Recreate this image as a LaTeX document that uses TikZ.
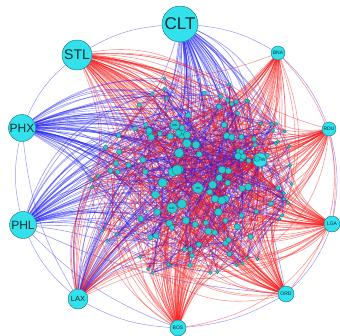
\documentclass[tikz,border=0pt]{standalone}
\usepackage{fontspec}
\setmainfont{Liberation Sans}
\usetikzlibrary{backgrounds}
\definecolor{nodecyan}{RGB}{50,225,235}
\definecolor{innercyan}{RGB}{40,205,210}
\definecolor{rimteal}{RGB}{20,110,120}
\definecolor{labelink}{RGB}{15,45,50}
\definecolor{linkred}{RGB}{245,25,25}
\definecolor{linkblue}{RGB}{30,30,240}
\tikzset{
    hub/.style={
        circle, fill=nodecyan, draw=rimteal, line width=0.4pt, inner sep=0pt, text=labelink
    },
    airport/.style={
        circle, fill=innercyan, draw=rimteal, line width=0.3pt, inner sep=0pt, text=labelink,
        font=\fontsize{3}{3}\selectfont
    },
    redlink/.style={
        draw=linkred, draw opacity=0.42, line width=0.65pt
    },
    bluelink/.style={
        draw=linkblue, draw opacity=0.42, line width=0.65pt
    },
    rimlink/.style={
        draw=linkblue!75!white, draw opacity=0.6, line width=0.5pt
    }
}

\begin{document}
\begin{tikzpicture}[x=1pt, y=-1pt]
    \useasboundingbox (0,0) rectangle (340,335);
    \pgfmathsetseed{17}

    % hubs round the rim
    \node[hub, minimum size=36pt, font=\fontsize{17}{17}\selectfont] (clt) at (180,24) {CLT};
    \node[hub, minimum size=30pt, font=\fontsize{14}{14}\selectfont] (stl) at (77,55) {STL};
    \node[hub, minimum size=27pt, font=\fontsize{12}{12}\selectfont] (phx) at (22,128) {PHX};
    \node[hub, minimum size=27pt, font=\fontsize{12}{12}\selectfont] (phl) at (23,225) {PHL};
    \node[hub, minimum size=20pt, font=\fontsize{7.5}{7.5}\selectfont] (lax) at (78,299) {LAX};
    \node[hub, minimum size=16pt, font=\fontsize{5}{5}\selectfont] (bos) at (178,328) {BOS};
    \node[hub, minimum size=16pt, font=\fontsize{5}{5}\selectfont] (ord) at (286,294) {ORD};
    \node[hub, minimum size=16pt, font=\fontsize{5}{5}\selectfont] (lga) at (332,224) {LGA};
    \node[hub, minimum size=14pt, font=\fontsize{5}{5}\selectfont] (rdu) at (329,129) {RDU};
    \node[hub, minimum size=14pt, font=\fontsize{5}{5}\selectfont] (bna) at (278,53) {BNA};
    \node[hub, minimum size=14pt, font=\fontsize{5}{5}\selectfont] (dfw) at (260,160) {DFW};

    % labelled airports in the core
    \node[airport, minimum size=10pt] (sdl) at (175,125) {SDL};
    \node[airport, minimum size=10pt] (dca) at (182,134) {DCA};
    \node[airport, minimum size=11pt] (jfk) at (198,188) {JFK};
    \node[airport, minimum size=11pt] (sjc) at (172,208) {SJC};

    % the other airports
    \foreach \i in {1,...,130}{
        \pgfmathsetmacro\ang{360*rnd}
        \pgfmathsetmacro\rr{sqrt(rnd)}
        \pgfmathsetmacro\sz{3.2+8.5*(1-\rr)*(0.4+0.6*rnd)}
        \node[airport, minimum size=\sz pt] (v\i) at ({192+106*\rr*cos(\ang)},{178+104*\rr*sin(\ang)}) {};
    }

    \begin{scope}[on background layer]
        % rim
        \foreach \ha/\hb in {clt/bna, bna/rdu, rdu/lga, lga/ord, ord/bos, bos/lax, lax/phl, phl/phx, phx/stl, stl/clt}
            \draw[rimlink] (\ha) to[bend left=12] (\hb);
        \draw[rimlink] (phx) to[bend right=12] (lax);
        \draw[rimlink] (phl) to[bend right=12] (bos);
        \draw[redlink] (bna) to[bend left=25] (lga);
        \draw[redlink] (rdu) to[bend left=25] (ord);
        \draw[redlink] (lga) to[bend left=25] (bos);
        \draw[redlink] (stl) to[bend right=10] (lga);
        \draw[bluelink] (phx) to[bend right=15] (rdu);
        \draw[bluelink] (phl) to[bend right=10] (ord);
        \draw[bluelink] (clt) to[bend left=10] (ord);

        % fans from each hub
        \foreach \hname/\hstyle/\hp in {clt/bluelink/0.55, stl/redlink/0.55, phx/bluelink/0.6, phl/bluelink/0.5,
                lax/bluelink/0.3, lax/redlink/0.2, bos/redlink/0.45, ord/redlink/0.4, lga/redlink/0.45,
                rdu/redlink/0.4, bna/redlink/0.4, dfw/redlink/0.25, dfw/bluelink/0.1}{
            \foreach \j in {1,...,130}{
                \pgfmathtruncatemacro\pick{rnd<\hp}
                \ifnum\pick=1
                    \pgfmathsetmacro\bnd{8+22*rnd}
                    \draw[\hstyle] (\hname) to[bend left=\bnd] (v\j);
                \fi
            }
            \foreach \k in {sdl,dca,jfk,sjc}
                \draw[\hstyle] (\hname) to[bend left=15] (\k);
        }

        % links inside the core
        \foreach \k in {1,...,420}{
            \pgfmathrandominteger\va{1}{130}
            \pgfmathrandominteger\vb{1}{130}
            \pgfmathtruncatemacro\pick{rnd<0.5}
            \pgfmathsetmacro\bnd{5+20*rnd}
            \ifnum\va=\vb\else
                \ifnum\pick=1
                    \draw[redlink] (v\va) to[bend left=\bnd] (v\vb);
                \else
                    \draw[bluelink] (v\va) to[bend left=\bnd] (v\vb);
                \fi
            \fi
        }
    \end{scope}
\end{tikzpicture}
\end{document}
